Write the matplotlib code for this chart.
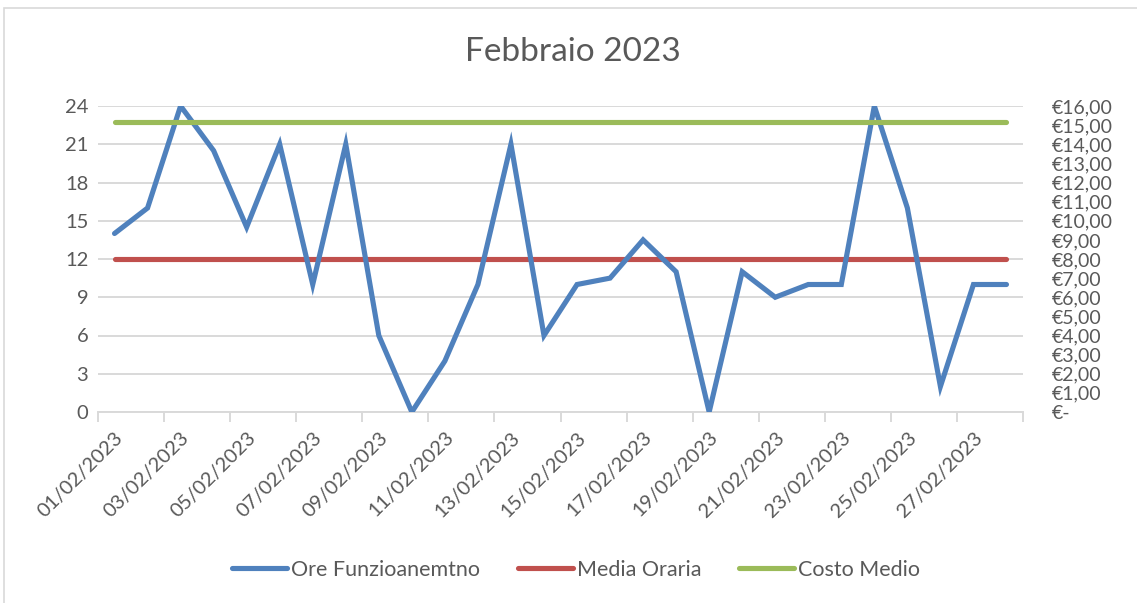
import matplotlib
matplotlib.use("Agg")
import matplotlib.pyplot as plt
from matplotlib.patches import Rectangle

# dati febbraio 2023
giorni = [f"{d:02d}/02/2023" for d in range(1, 29)]
ore_funzionamento = [14, 16, 24, 20.5, 14.5, 21, 10, 21, 6, 0, 4, 10, 21, 6,
                     10, 10.5, 13.5, 11, 0, 11, 9, 10, 10, 24, 16, 2, 10, 10]
media_oraria = [12] * len(giorni)
costo_medio = [15.17] * len(giorni)

ore_ticks = list(range(0, 25, 3))
euro_ticks = list(range(0, 17))
euro_labels = ["€-"] + [f"€{v},00" for v in euro_ticks[1:]]

BLU = "#4f81bd"
ROSSO = "#c0504d"
VERDE = "#9bbb59"
TESTO = "#595959"
GRIGIO = "#d9d9d9"

plt.rcParams["font.family"] = ["Lato", "DejaVu Sans"]
plt.rcParams["text.color"] = TESTO

fig = plt.figure(figsize=(11.37, 6.03), dpi=100)
ax = fig.add_axes([98 / 1137, 1 - 412 / 603, (1023 - 98) / 1137, (412 - 106) / 603])
ax2 = ax.twinx()

x = list(range(len(giorni)))
ax.plot(x, ore_funzionamento, color=BLU, lw=3.7, solid_capstyle="round",
        solid_joinstyle="miter", label="Ore Funzioanemtno", zorder=3)
ax.plot(x, media_oraria, color=ROSSO, lw=3.7, solid_capstyle="round",
        label="Media Oraria", zorder=2)
ax2.plot(x, costo_medio, color=VERDE, lw=3.7, solid_capstyle="round",
         label="Costo Medio")

ax.set_xlim(-0.5, len(giorni) - 0.5)
ax.set_ylim(0, 24)
ax2.set_ylim(0, 16)

ax.set_yticks(ore_ticks)
ax.set_yticklabels([str(v) for v in ore_ticks], fontsize=14.5, color=TESTO)
ax.tick_params(axis="y", length=0, pad=7)
ax.grid(axis="y", color=GRIGIO, lw=1.4)
ax.set_axisbelow(True)

ax2.set_yticks(euro_ticks)
ax2.set_yticklabels(euro_labels, fontsize=14, color=TESTO)
ax2.tick_params(axis="y", length=0, pad=21)

# etichette ogni due giorni, tacche tra le categorie
ax.set_xticks(x[::2])
ax.set_xticklabels(giorni[::2], rotation=45, ha="right", rotation_mode="anchor",
                   fontsize=14.5, color=TESTO)
ax.tick_params(axis="x", which="major", length=0, pad=12)
ax.set_xticks([i - 0.5 for i in range(0, len(giorni) + 1, 2)], minor=True)
ax.tick_params(axis="x", which="minor", length=7, width=1.4, color=GRIGIO)

for a in (ax, ax2):
    for s in ("top", "left", "right"):
        a.spines[s].set_visible(False)
    a.spines["bottom"].set_color(GRIGIO)
    a.spines["bottom"].set_linewidth(1.4)
ax2.spines["bottom"].set_visible(False)

fig.text(0.504, 1 - 52 / 603, "Febbraio 2023", ha="center", va="center",
         fontsize=24, color=TESTO)

linee = ax.get_lines() + ax2.get_lines()
fig.legend(linee, [l.get_label() for l in linee], loc="center", ncol=3,
           bbox_to_anchor=(576 / 1137, 1 - 570 / 603), frameon=False, fontsize=15.5,
           handlelength=2.55, handletextpad=0.2, columnspacing=1.75)

fig.patches.append(Rectangle((4 / 1137, -0.1), 1.2, 1.1 - 8 / 603,
                             transform=fig.transFigure, fill=False,
                             edgecolor=GRIGIO, lw=1.2))

fig.savefig("out.png", dpi=100)
